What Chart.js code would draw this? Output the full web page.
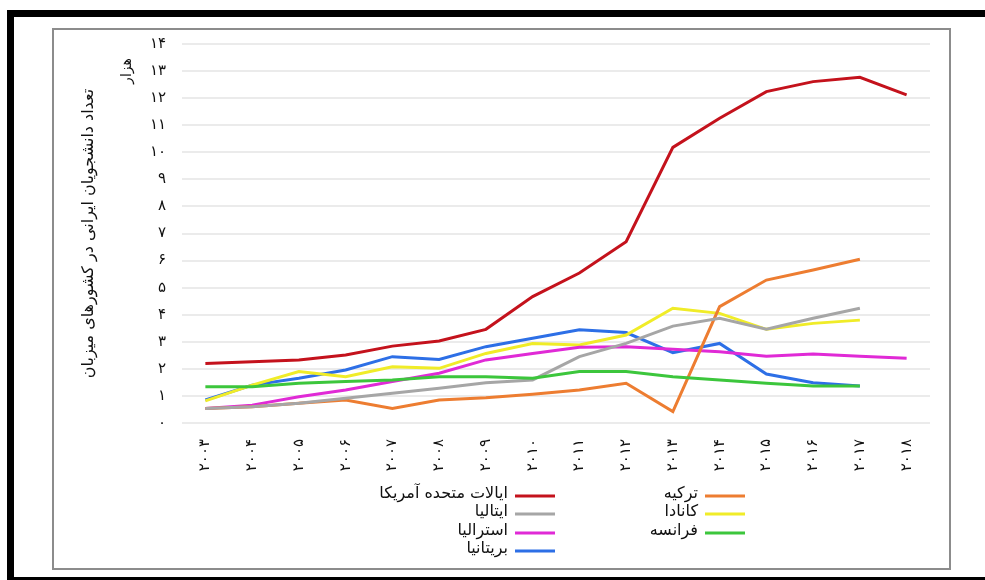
<!DOCTYPE html>
<html>
<head>
<meta charset="utf-8">
<script src="https://cdn.jsdelivr.net/npm/chart.js@4"></script>
<style>
  html, body { margin: 0; padding: 0; background: #fff; }
  #wrap { position: relative; width: 985px; height: 580px; }
</style>
</head>
<body>
<div id="wrap"><canvas id="c" width="985" height="580"></canvas></div>
<script>
// ---- data ----
const years = ['۲۰۰۳','۲۰۰۴','۲۰۰۵','۲۰۰۶','۲۰۰۷','۲۰۰۸','۲۰۰۹','۲۰۱۰','۲۰۱۱','۲۰۱۲','۲۰۱۳','۲۰۱۴','۲۰۱۵','۲۰۱۶','۲۰۱۷','۲۰۱۸'];
const yTickLabels = ['۰','۱','۲','۳','۴','۵','۶','۷','۸','۹','۱۰','۱۱','۱۲','۱۳','۱۴'];
const yTitle = 'تعداد دانشجویان ایرانی در کشورهای میزبان';
const yUnit = 'هزار';

const usa       = [2.2, 2.26, 2.33, 2.51, 2.84, 3.03, 3.46, 4.67, 5.54, 6.7, 10.18, 11.26, 12.24, 12.61, 12.77, 12.12];
const turkey    = [0.54, 0.6, 0.73, 0.85, 0.54, 0.85, 0.93, 1.06, 1.22, 1.47, 0.42, 4.3, 5.28, 5.65, 6.05, null];
const italy     = [0.54, 0.6, 0.73, 0.91, 1.1, 1.28, 1.49, 1.59, 2.45, 2.94, 3.58, 3.87, 3.46, 3.87, 4.24, null];
const canada    = [0.82, 1.4, 1.9, 1.71, 2.08, 2.02, 2.57, 2.94, 2.88, 3.25, 4.24, 4.05, 3.46, 3.68, 3.8, null];
const australia = [0.54, 0.66, 0.97, 1.22, 1.53, 1.84, 2.33, 2.57, 2.8, 2.82, 2.72, 2.63, 2.47, 2.55, 2.47, 2.39];
const france    = [1.34, 1.34, 1.47, 1.53, 1.59, 1.71, 1.71, 1.65, 1.9, 1.9, 1.71, 1.59, 1.47, 1.37, 1.37, null];
const uk        = [0.85, 1.4, 1.65, 1.96, 2.45, 2.35, 2.82, 3.13, 3.44, 3.34, 2.6, 2.94, 1.81, 1.49, 1.37, null];

const names = {
  usa: 'ایالات متحده آمریکا',
  italy: 'ایتالیا',
  australia: 'استرالیا',
  uk: 'بریتانیا',
  turkey: 'ترکیه',
  canada: 'کانادا',
  france: 'فرانسه'
};

const FONT = '"DejaVu Sans", sans-serif';

function ds(label, data, color, col, row) {
  return { label, data, borderColor: color, backgroundColor: color, borderWidth: 3,
           pointRadius: 0, tension: 0, fill: false, legendCol: col, legendRow: row };
}

// frame + background
const framePlugin = {
  id: 'frame',
  beforeDraw(chart) {
    const ctx = chart.ctx;
    ctx.save();
    ctx.fillStyle = '#fff';
    ctx.fillRect(0, 0, chart.width, chart.height);
    // black frame
    ctx.fillStyle = '#000';
    ctx.fillRect(7, 10, 978, 7);
    ctx.fillRect(7, 10, 7, 570);
    ctx.fillRect(7, 577, 978, 3);
    // gray inner box
    ctx.strokeStyle = '#8c8c8c';
    ctx.lineWidth = 2;
    ctx.strokeRect(53, 29, 897, 540);
    ctx.restore();
  },
  afterDraw(chart) {
    const ctx = chart.ctx;
    ctx.save();
    // unit label "هزار" rotated
    ctx.translate(127, 71);
    ctx.rotate(-Math.PI / 2);
    ctx.fillStyle = '#111';
    ctx.font = '14px ' + FONT;
    ctx.textAlign = 'center';
    ctx.textBaseline = 'middle';
    ctx.direction = 'rtl';
    ctx.fillText(yUnit, 0, 0);
    ctx.restore();

    // custom two-column legend
    ctx.save();
    ctx.font = '16px ' + FONT;
    ctx.direction = 'rtl';
    ctx.textAlign = 'right';
    ctx.textBaseline = 'middle';
    const colRight = [555, 745];
    const rowY = [496, 514, 533, 551];
    chart.data.datasets.forEach(d => {
      const xr = colRight[d.legendCol];
      const y = rowY[d.legendRow];
      ctx.strokeStyle = d.borderColor;
      ctx.lineWidth = 3;
      ctx.beginPath();
      ctx.moveTo(xr - 40, y);
      ctx.lineTo(xr, y);
      ctx.stroke();
      ctx.fillStyle = '#111';
      ctx.fillText(d.label, xr - 47, y - 2);
    });
    ctx.restore();
  }
};

new Chart(document.getElementById('c'), {
  type: 'line',
  data: {
    labels: years,
    datasets: [
      ds(names.france, france, '#3cc63c', 1, 2),
      ds(names.italy, italy, '#a6a6a6', 0, 1),
      ds(names.turkey, turkey, '#ed7d31', 1, 0),
      ds(names.australia, australia, '#e02ad6', 0, 2),
      ds(names.canada, canada, '#f0ec28', 1, 1),
      ds(names.uk, uk, '#2d6fe6', 0, 3),
      ds(names.usa, usa, '#c4121c', 0, 0)
    ]
  },
  options: {
    responsive: false,
    animation: false,
    layout: { padding: { left: 70, right: 55, top: 44, bottom: 102 } },
    plugins: { legend: { display: false }, tooltip: { enabled: false } },
    scales: {
      x: {
        offset: true,
        grid: { display: false },
        border: { display: false },
        ticks: { minRotation: 90, maxRotation: 90, padding: 8, color: '#111',
                 font: { family: FONT, size: 15 } },
        afterFit(s) { s.height = 55; }
      },
      y: {
        min: 0, max: 14,
        grid: { color: '#ebebeb', lineWidth: 2, drawTicks: false },
        border: { display: false },
        ticks: { stepSize: 1, padding: 16, color: '#111', font: { family: FONT, size: 15 },
                 callback: v => yTickLabels[v] },
        title: { display: true, text: yTitle, color: '#111', padding: { top: 9, bottom: 0 },
                 font: { family: FONT, size: 16 } },
        afterFit(s) { s.width = 112; }
      }
    }
  },
  plugins: [framePlugin]
});
</script>
</body>
</html>
